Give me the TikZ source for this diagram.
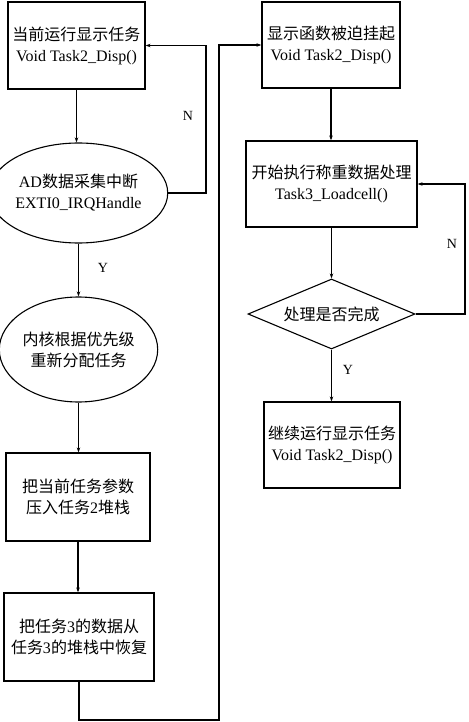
\documentclass[tikz,border=0pt]{standalone}
\usepackage{fontspec}
\setmainfont{Liberation Serif}
\newfontfamily\cjk{Noto Sans CJK SC}
\usetikzlibrary{shapes.geometric,arrows.meta}
\begin{document}
\begin{tikzpicture}[x=1pt,y=-1pt,
  every node/.style={font=\fontsize{16}{21}\selectfont},
  box/.style={draw,line width=1.2pt,rectangle,inner sep=0pt,align=center},
  ell/.style={draw,line width=1.1pt,ellipse,inner sep=0pt,align=center},
  dia/.style={draw,line width=1.1pt,diamond,aspect=2.4,inner sep=0pt,align=center},
  arr/.style={line width=1.5pt,-{Stealth[length=5pt,width=3.5pt]}},
  lbl/.style={font=\fontsize{14}{14}\selectfont}]
\useasboundingbox (0,0) rectangle (468,722);
\fill[white] (0,0) rectangle (468,722);

\node[box,minimum width=137pt,minimum height=87pt] (b1) at (76.5,45.5)
  {{\cjk 当前运行显示任务}\\Void Task2\_Disp()};
\node[ell,minimum width=151pt,minimum height=100pt] (e1) at (78.5,193)
  {AD{\cjk 数据采集中断}\\EXTI0\_IRQHandle};
\node[ell,minimum width=133pt,minimum height=105pt] (e2) at (78.5,349.5)
  {{\cjk 内核根据优先级}\\{\cjk 重新分配任务}};
\node[box,minimum width=144pt,minimum height=88pt] (b3) at (78,497)
  {{\cjk 把当前任务参数}\\{\cjk 压入任务}2{\cjk 堆栈}};
\node[box,minimum width=150pt,minimum height=88pt] (b4) at (79,637)
  {{\cjk 把任务}3{\cjk 的数据从}\\{\cjk 任务}3{\cjk 的堆栈中恢复}};

\node[box,minimum width=138pt,minimum height=86pt] (b5) at (331,45)
  {{\cjk 显示函数被迫挂起}\\Void Task2\_Disp()};
\node[box,minimum width=171pt,minimum height=86pt] (b6) at (331.5,184)
  {{\cjk 开始执行称重数据处理}\\Task3\_Loadcell()};
\node[dia,minimum width=167pt,minimum height=70pt] (d1) at (331.5,314)
  {{\cjk 处理是否完成}};
\node[box,minimum width=136pt,minimum height=86pt] (b7) at (332,445)
  {{\cjk 继续运行显示任务}\\Void Task2\_Disp()};

\coordinate (n1) at (206,45.5);
\coordinate (c2) at (219,720);
\coordinate (c3) at (219,45);
\coordinate (n2) at (465,184);

\draw[arr] (b1.south) -- (b1.south |- e1.north);
\draw[arr] (e1.east) -| (n1) -- (b1.east);
\draw[arr] (e1.south) -- (e2.north);
\draw[arr] (e2.south) -- (e2.south |- b3.north);
\draw[arr] (b3.south) -- (b3.south |- b4.north);
\draw[arr] (b4.south) |- (c2) -- (c3) -- (b5.west);
\draw[arr] (b5.south) -- (b5.south |- b6.north);
\draw[arr] (b6.south) -- (b6.south |- d1.north);
\draw[arr] (d1.east) -| (n2) -- (b6.east);
\draw[arr] (d1.south) -- (d1.south |- b7.north);

\node[lbl] (ln1) at (188,116) {N};
\node[lbl] (ly1) at (103,268) {Y};
\node[lbl] (ln2) at (452,244) {N};
\node[lbl] (ly2) at (348,370) {Y};
\end{tikzpicture}
\end{document}
